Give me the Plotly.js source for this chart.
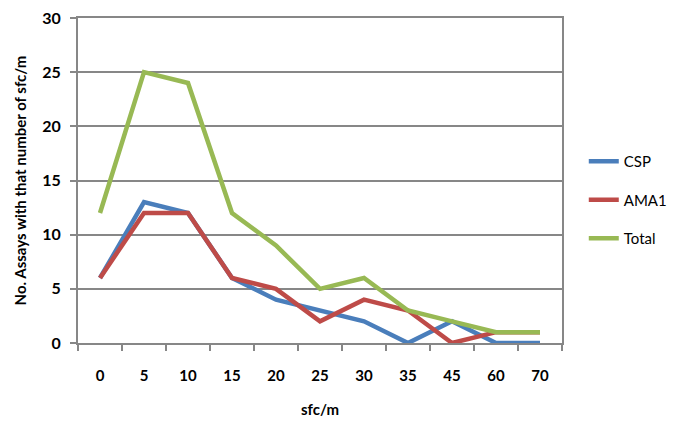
<!DOCTYPE html>
<html>
<head>
<meta charset="utf-8">
<script src="https://cdn.plot.ly/plotly-3.0.1.min.js"></script>
<style>html,body{margin:0;padding:0;background:#fff;}#chart{width:685px;height:427px;}</style>
</head>
<body>
<div id="chart"></div>
<script>
const categories = ["0","5","10","15","20","25","30","35","45","60","70"];
const cspValues = [6, 13, 12, 6, 4, 3, 2, 0, 2, 0, 0];
const ama1Values = [6, 12, 12, 6, 5, 2, 4, 3, 0, 1, 1];
const totalValues = [12, 25, 24, 12, 9, 5, 6, 3, 2, 1, 1];
const seriesNames = ["CSP", "AMA1", "Total"];
const seriesColors = ["#4A7EBB", "#BE4B48", "#98B954"];
const allSeries = [cspValues, ama1Values, totalValues];

const fontFam = "Lato, 'Open Sans', sans-serif";
const traces = allSeries.map((vals, i) => ({
  type: "scatter",
  mode: "lines",
  x: categories,
  y: vals,
  name: seriesNames[i],
  legendgroup: "g" + i,
  line: {color: seriesColors[i], width: 4.5}
}));

const layout = {
  width: 685, height: 427,
  margin: {l: 78, r: 123, t: 18, b: 84},
  paper_bgcolor: "#fff", plot_bgcolor: "#fff",
  font: {family: fontFam, color: "#000", size: 14},
  showlegend: true,
  legend: {
    x: 1.045, xanchor: "left", y: 0.44, yanchor: "middle",
    font: {family: fontFam, size: 15, color: "#000"},
    tracegroupgap: 16, traceorder: "grouped",
    itemwidth: 30
  },
  xaxis: {
    type: "category",
    range: [-0.5, categories.length - 0.5],
    tickson: "boundaries",
    ticks: "outside", ticklen: 6, tickwidth: 2, tickcolor: "#878787",
    showline: true, linecolor: "#878787", linewidth: 2,
    mirror: true,
    showgrid: false,
    ticklabelstandoff: 18,
    tickfont: {family: fontFam, size: 15, weight: "bold"},
    title: {text: "sfc/m", font: {family: fontFam, size: 15, weight: "bold"}, standoff: 21},
    fixedrange: true
  },
  yaxis: {
    range: [0, 30], dtick: 5, tick0: 0,
    ticks: "outside", ticklen: 6, tickwidth: 2, tickcolor: "#878787",
    showline: true, linecolor: "#878787", linewidth: 2,
    mirror: true,
    showgrid: true, gridcolor: "#878787", gridwidth: 2,
    zeroline: false,
    ticklabelstandoff: 6,
    tickfont: {family: fontFam, size: 16, weight: "bold"},
    title: {text: "No. Assays with that number of sfc/m", font: {family: fontFam, size: 15, weight: "bold"}, standoff: 12},
    fixedrange: true
  }
};

Plotly.newPlot("chart", traces, layout, {displayModeBar: false, staticPlot: true});
</script>
</body>
</html>
